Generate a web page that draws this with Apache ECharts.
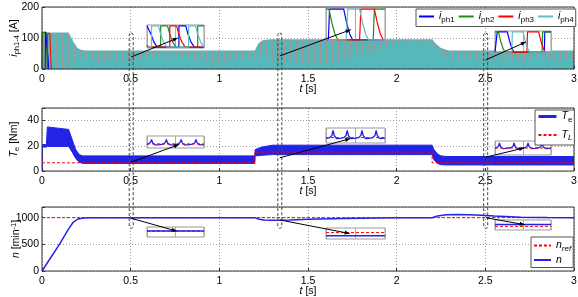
<!DOCTYPE html>
<html><head><meta charset="utf-8">
<script src="https://cdn.jsdelivr.net/npm/echarts@6/dist/echarts.min.js"></script>
<style>html,body{margin:0;padding:0;background:#fff}#c{width:578px;height:297px}</style>
</head><body><div id="c"></div>
<script>
// ---------------- data ----------------
// phase currents (plot 1): envelope of the four currents and the level of the solid teal mass
const tCur = [0,0.004,0.15,0.16,0.18,0.2,0.22,0.25,0.3,0.33,0.36,0.4,0.45,0.5,0.55,0.6,0.7,0.8,0.9,0.97,1.0,1.05,1.1,1.2,1.22,1.24,1.27,1.3,1.35,1.4,1.45,1.5,1.55,1.6,1.7,1.8,1.9,2.0,2.1,2.2,2.22,2.25,2.28,2.3,2.4,2.5,2.6,2.7,2.8,2.9,3.0];
const curEnvelope = [0,118,118,112,85,68,62,60,60,60,60,60,60,60,60,60,60,60,60,60,60,60,60,60,82,92,95,96,96,96,96,96,96,96,96,96,96,96,96,96,82,68,62,60,60,60,60,60,60,60,60];
const curSolid = [0,4,4,8,20,32,40,38,28,15,22,32,28,18,30,38,42,38,30,15,14,25,33,38,45,48,35,22,18,24,14,24,14,18,30,45,62,80,84,86,62,45,38,30,40,24,35,22,38,26,35];
// start-up transients of single phases (plot 1)
const startPh1 = [[0.018,0],[0.02,120],[0.03,117],[0.034,40],[0.038,0]];
const startPh2 = [[0,0],[0.001,118],[0.022,118],[0.028,50],[0.032,0]];
const startPh3 = [[0.03,0],[0.032,116],[0.045,114],[0.05,30],[0.053,0]];
// torque (plot 2)
const tTe = [0,0.002,0.025,0.03,0.15,0.17,0.19,0.21,0.23,0.26,1.2,1.202,1.24,1.3,2.2,2.21,2.23,2.25,2.28,3.0];
const teUpper = [0,21,21,35,33,25,17,13,12,12,12,17,19,20.5,20.5,17,13.5,12,11.5,11.5];
const teLower = [0,19,19,19.5,19.5,15,10,7,6,6,6,12,12.5,13,13,9,6,5,4.8,4.8];
const tTL = [0,1.2,1.2,2.2,2.2,3.0];
const tlValues = [6.5,6.5,15,15,6.5,6.5];
// speed (plot 3)
const tN = [0,0.1,0.15,0.175,0.2,0.23,0.28,1.2,1.22,1.25,1.3,1.4,1.5,1.7,1.9,2.0,2.2,2.23,2.28,2.35,2.45,2.55,2.7,2.85,3.0];
const nValues = [0,510,790,910,970,993,1000,1000,975,958,952,955,968,985,995,998,1000,1030,1055,1058,1048,1030,1010,1003,1000];
const tNref = [0,3];
const nRefValues = [1000,1000];
// zoom windows (centre times)
const zoomT = [0.503,1.341,2.502];
const zoomHalfWidth = 0.0113;
// inset A/B/C: phase currents (normalised)
const insA = {
  ph1:[[0,1],[0.03,1],[0.07,0.6],[0.12,0.25],[0.18,0],[0.56,0],[0.56,1],[0.68,1],[0.72,0.6],[0.77,0.25],[0.83,0],[1,0]],
  ph2:[[0,0],[0.24,0],[0.24,1],[0.36,1],[0.40,0.6],[0.45,0.25],[0.51,0],[0.89,0],[0.89,1],[1,1]],
  ph3:[[0,0.1],[0.02,0],[0.40,0],[0.40,1],[0.52,1],[0.56,0.6],[0.61,0.25],[0.67,0],[1,0]],
  ph4:[[0,0],[0.08,0],[0.08,1],[0.2,1],[0.24,0.6],[0.29,0.25],[0.35,0],[0.73,0],[0.73,1],[0.85,1],[0.89,0.6],[0.94,0.25],[1,0]]
};
const insB = {
  ph1:[[0,0],[0.04,0],[0.06,1],[0.3,1],[0.35,0.55],[0.4,0.2],[0.45,0],[1,0]],
  ph2:[[0,1],[0.05,1],[0.1,0.55],[0.15,0.2],[0.2,0],[0.8,0],[0.82,1],[1,1]],
  ph3:[[0,0],[0.57,0],[0.59,1],[0.82,1],[0.87,0.55],[0.92,0.2],[0.97,0],[1,0]],
  ph4:[[0,0],[0.34,0],[0.37,1],[0.57,1],[0.62,0.55],[0.67,0.2],[0.72,0],[1,0]]
};
const insC = {
  ph1:[[0,0],[0.03,0],[0.04,1],[0.22,1],[0.26,0.55],[0.3,0.2],[0.34,0],[0.88,0],[0.89,1],[1,1]],
  ph2:[[0,1],[0.06,1],[0.1,0.55],[0.14,0.2],[0.18,0],[0.84,0],[0.85,1],[1,1]],
  ph3:[[0,0],[0.57,0],[0.58,1],[0.78,1],[0.82,0.55],[0.86,0.2],[0.9,0],[1,0]],
  ph4:[[0,0],[0.3,0],[0.31,1],[0.5,1],[0.54,0.55],[0.58,0.2],[0.62,0],[1,0]]
};
// inset D/E/F: torque ripple (normalised)
const insTeD = [[0,0.26],[0.02,0.3],[0.06,0.45],[0.08,0.72],[0.1,0.42],[0.14,0.24],[0.2,0.25],[0.28,0.3],[0.32,0.45],[0.34,0.72],[0.36,0.42],[0.4,0.24],[0.46,0.25],[0.54,0.3],[0.58,0.45],[0.6,0.72],[0.62,0.42],[0.66,0.24],[0.72,0.25],[0.8,0.3],[0.84,0.45],[0.86,0.72],[0.88,0.42],[0.92,0.24],[1,0.26]];
const insTeE = [[0,0.3],[0.06,0.34],[0.1,0.5],[0.12,0.87],[0.14,0.5],[0.18,0.28],[0.24,0.3],[0.3,0.34],[0.34,0.5],[0.36,0.87],[0.38,0.5],[0.42,0.28],[0.49,0.3],[0.55,0.34],[0.59,0.5],[0.61,0.87],[0.63,0.5],[0.67,0.28],[0.73,0.3],[0.79,0.34],[0.83,0.5],[0.85,0.87],[0.87,0.5],[0.91,0.28],[1,0.31]];
const insTeF = [[0,0.47],[0.02,0.52],[0.06,0.62],[0.08,0.88],[0.1,0.62],[0.14,0.45],[0.2,0.47],[0.28,0.52],[0.32,0.62],[0.34,0.88],[0.36,0.62],[0.4,0.45],[0.46,0.47],[0.53,0.52],[0.57,0.62],[0.59,0.88],[0.61,0.62],[0.65,0.45],[0.71,0.47],[0.78,0.52],[0.82,0.62],[0.84,0.88],[0.86,0.62],[0.9,0.45],[1,0.48]];
const insTlD = [[0,0.33],[1,0.33]];
const insTlE = [[0,0.35],[1,0.35]];
const insTlF = [[0,0.5],[1,0.5]];
// inset G/H/I: speed (normalised)
const insNG = [[0,0.6],[1,0.6]],  insNrefG = [[0,0.6],[1,0.6]];
const insNH = [[0,0.29],[1,0.29]], insNrefH = [[0,0.59],[1,0.59]];
const insNI = [[0,0.55],[1,0.55]], insNrefI = [[0,0.35],[1,0.35]];

// ---------------- styling ----------------
const FONT = '"Liberation Sans", Arial, sans-serif';
const C1='#0000ff', C2='#1f8a1f', C3='#ff0000', C4='#5cbfc6', TEAL='#55b8ba', BLUE='#2323e6', RED='#ff0000';
const rich = {
  i:{fontFamily:FONT,fontSize:10.5,fontStyle:'italic',color:'#000',lineHeight:13,verticalAlign:'middle'},
  n:{fontFamily:FONT,fontSize:10.5,color:'#000',lineHeight:13,verticalAlign:'middle'},
  s:{fontFamily:FONT,fontSize:7.5,color:'#000',lineHeight:13,verticalAlign:'bottom'},
  si:{fontFamily:FONT,fontSize:7.5,fontStyle:'italic',color:'#000',lineHeight:13,verticalAlign:'bottom'},
  sup:{fontFamily:FONT,fontSize:7.5,color:'#000',lineHeight:13,verticalAlign:'top'}
};
const legRich = {
  i:{fontFamily:FONT,fontSize:10.5,fontStyle:'italic',color:'#000',lineHeight:14,verticalAlign:'middle'},
  s:{fontFamily:FONT,fontSize:8,color:'#000',lineHeight:14,verticalAlign:'bottom'},
  si:{fontFamily:FONT,fontSize:8,fontStyle:'italic',color:'#000',lineHeight:14,verticalAlign:'bottom'}
};
const zip = (a,b)=>a.map((x,i)=>[x,b[i]]);

const pat = document.createElement('canvas'); pat.width=3; pat.height=4;
const pg = pat.getContext('2d'); pg.fillStyle=TEAL; pg.fillRect(0,0,3,4); pg.fillStyle='#989898'; pg.fillRect(2,0,1,4);

const mainGrids = [{top:7,height:62},{top:108,height:63},{top:207,height:64}];
const insets = [
  {l:147,t:25,w:57,h:23},{l:326,t:8,w:59,h:33},{l:495,t:31,w:56,h:22},
  {l:147,t:136,w:57,h:12},{l:326,t:128,w:59,h:15},{l:495,t:141,w:56,h:14},
  {l:147,t:227,w:57,h:10},{l:326,t:228,w:59,h:11},{l:495,t:220,w:56,h:10}
];
const grid = mainGrids.map(g=>({left:42,width:532,top:g.top,height:g.height,containLabel:false,outerBoundsMode:'none',show:true,z:3,backgroundColor:'transparent',borderColor:'#333',borderWidth:1}))
  .concat(insets.map(r=>({left:r.l,top:r.t,width:r.w,height:r.h,containLabel:false,outerBoundsMode:'none',show:true,z:10,backgroundColor:'#fff',borderColor:'#999',borderWidth:1})));

const xAxis = [0,1,2].map(gi=>({
  type:'value',gridIndex:gi,min:0,max:3,interval:0.5,
  axisLine:{show:false},axisTick:{inside:true,length:3,lineStyle:{color:'#333'}},
  axisLabel:{fontFamily:FONT,fontSize:10.5,color:'#000',margin:5},
  splitLine:{show:true,lineStyle:{color:'#a0a0a0',type:[1,2],width:1}},
  name:'{i|t}{n| [s]}',nameLocation:'middle',nameGap:14,nameMoveOverlap:false,nameTextStyle:{rich}
})).concat(insets.map((r,k)=>({
  type:'value',gridIndex:3+k,min:0,max:1,interval:0.5,z:11,
  axisLine:{show:false},axisTick:{show:false},axisLabel:{show:false},
  splitLine:{show:true,lineStyle:{color:'#aaa',width:1}}
})));
const yMain = (gi,max,interval,name,gap)=>({
  type:'value',gridIndex:gi,min:0,max:max,interval:interval,
  axisLine:{show:false},axisTick:{inside:true,length:3,lineStyle:{color:'#333'}},
  axisLabel:{fontFamily:FONT,fontSize:10.5,color:'#000',margin:3,formatter:v=>(v%interval===0?String(v):'')},
  splitLine:{show:true,lineStyle:{color:'#a0a0a0',type:[1,2],width:1}},
  name:name,nameLocation:'middle',nameGap:gap,nameMoveOverlap:false,nameTextStyle:{rich}
});
const yAxis = [
  yMain(0,200,100,'{i|i}{s|ph1-4}{n| [A]}',21),
  yMain(1,50,20,'{i|T}{s|e}{n| [Nm]}',21.5),
  yMain(2,1200,500,'{i|n}{n| [min}{sup|-1}{n|]}',19)
].concat(insets.map((r,k)=>({type:'value',gridIndex:3+k,min:-0.04,max:1.04,show:false,splitLine:{show:false}})));

const ln = (name,xi,data,color,width,z,dash)=>({type:'line',name,xAxisIndex:xi,yAxisIndex:xi,data,symbol:'none',silent:true,z,
  lineStyle:{color,width,type:dash||'solid'},itemStyle:{color}});

const series = [];
// insets first so their names own the legend icons
[[3,insA],[4,insB],[5,insC]].forEach(([ai,d])=>{
  series.push(ln('iph1',ai,d.ph1,C1,1.2,12), ln('iph2',ai,d.ph2,C2,1.2,12), ln('iph3',ai,d.ph3,C3,1.2,12), ln('iph4',ai,d.ph4,C4,1.2,12));
});
[[6,insTeD,insTlD],[7,insTeE,insTlE],[8,insTeF,insTlF]].forEach(([ai,te,tl])=>{
  series.push(ln('Te',ai,te,BLUE,1.3,12), ln('TL',ai,tl,RED,1,13,[3,2]));
});
[[9,insNG,insNrefG],[10,insNH,insNrefH],[11,insNI,insNrefI]].forEach(([ai,n,nr])=>{
  series.push(ln('nref',ai,nr,RED,1,12,[3,2]), ln('n',ai,n,BLUE,1.5,13));
});
// main plot 1
series.push({type:'line',name:'envStripes',xAxisIndex:0,yAxisIndex:0,data:zip(tCur,curEnvelope),symbol:'none',silent:true,z:2,
  lineStyle:{width:0,opacity:0},areaStyle:{color:{image:pat,repeat:'repeat'},opacity:1}});
series.push({type:'line',name:'envSolid',xAxisIndex:0,yAxisIndex:0,data:zip(tCur,curSolid),symbol:'none',silent:true,z:2,
  lineStyle:{width:0,opacity:0},areaStyle:{color:TEAL,opacity:1}});
series.push(ln('start2',0,startPh2,C2,1.5,2));
series.push(ln('start1',0,startPh1,C1,1,2));
series.push(ln('start3',0,startPh3,C3,1,2));
// main plot 2: torque band drawn as polygon between upper and lower envelopes
series.push({type:'custom',name:'teBand',xAxisIndex:1,yAxisIndex:1,z:2,silent:true,clip:true,data:[[0,0]],
  renderItem:(params,api)=>{
    const up = tTe.map((t,i)=>api.coord([t,teUpper[i]]));
    const lo = tTe.map((t,i)=>api.coord([t,teLower[i]])).reverse();
    return {type:'polygon',shape:{points:up.concat(lo)},style:{fill:BLUE,stroke:BLUE,lineWidth:1}};
  }});
series.push(ln('TL',1,zip(tTL,tlValues),RED,1,3,[3,2]));
// main plot 3
series.push(ln('nref',2,zip(tNref,nRefValues),RED,1,2,[3,2]));
series.push(ln('n',2,zip(tN,nValues),BLUE,1.5,3));

const legendText = {iph1:'{i|i}{s|ph1}',iph2:'{i|i}{s|ph2}',iph3:'{i|i}{s|ph3}',iph4:'{i|i}{s|ph4}',
  Te:'{i|T}{s|e}',TL:'{i|T}{si|L}',nref:'{i|n}{si|ref}',n:'{i|n}'};
const legBase = {z:30,selectedMode:false,backgroundColor:'#fff',borderColor:'#555',borderWidth:1,
  textStyle:{rich:legRich},formatter:nm=>legendText[nm],itemHeight:10,itemStyle:{opacity:0}};
const legend = [
  Object.assign({},legBase,{left:416,top:9,width:200,orient:'horizontal',padding:[2,2,3,2],itemGap:3,itemWidth:15,
    data:['iph1','iph2','iph3','iph4']}),
  Object.assign({},legBase,{left:535,top:110,orient:'vertical',padding:[1,2,3,2],itemGap:6,itemWidth:18,
    data:[{name:'Te',lineStyle:{width:3}},'TL']}),
  Object.assign({},legBase,{left:531,top:237,orient:'vertical',padding:[3,2,2,2],itemGap:2,itemWidth:17,
    data:['nref',{name:'n',lineStyle:{width:2}}]})
];

const chart = echarts.init(document.getElementById('c'),null,{renderer:'canvas'});
chart.setOption({animation:false,grid,xAxis,yAxis,series,legend});

// annotations: dashed zoom windows and arrows to the insets
const px = (ai,x,y)=>chart.convertToPixel({xAxisIndex:ai,yAxisIndex:ai},[x,y]);
const elems = [];
zoomT.forEach(tc=>{
  const a = px(0,tc-zoomHalfWidth,116), b = px(2,tc+zoomHalfWidth,800);
  elems.push({type:'rect',z:20,silent:true,shape:{x:a[0],y:a[1],width:b[0]-a[0],height:b[1]-a[1],r:2},
    style:{fill:null,stroke:'#444',lineWidth:1,lineDash:[3,2]}});
});
const arrows = [
  [0,0.503,38.7,3,0.54,0.43],[0,1.341,42,4,0.42,0.33],[0,2.502,29,5,0.55,0.5],
  [1,0.503,7,6,0.56,0.27],[1,1.341,10.5,7,0.41,0.27],[1,2.502,11,8,0.52,0.5],
  [2,0.503,989,9,0.52,0.6],[2,1.341,957,10,0.4,0.5],[2,2.502,1000,11,0.53,0.53]
];
arrows.forEach(([mi,x0,y0,ii,x1,y1])=>{
  const p = px(mi,x0,y0), q = px(ii,x1,y1);
  const dx=q[0]-p[0], dy=q[1]-p[1], L=Math.hypot(dx,dy), ux=dx/L, uy=dy/L;
  elems.push({type:'line',z:20,silent:true,shape:{x1:p[0],y1:p[1],x2:q[0],y2:q[1]},style:{stroke:'#000',lineWidth:1}});
  elems.push({type:'polygon',z:20,silent:true,shape:{points:[[q[0],q[1]],[q[0]-ux*5-uy*2,q[1]-uy*5+ux*2],[q[0]-ux*5+uy*2,q[1]-uy*5-ux*2]]},style:{fill:'#000'}});
});
chart.setOption({graphic:{elements:elems}});
</script></body></html>
